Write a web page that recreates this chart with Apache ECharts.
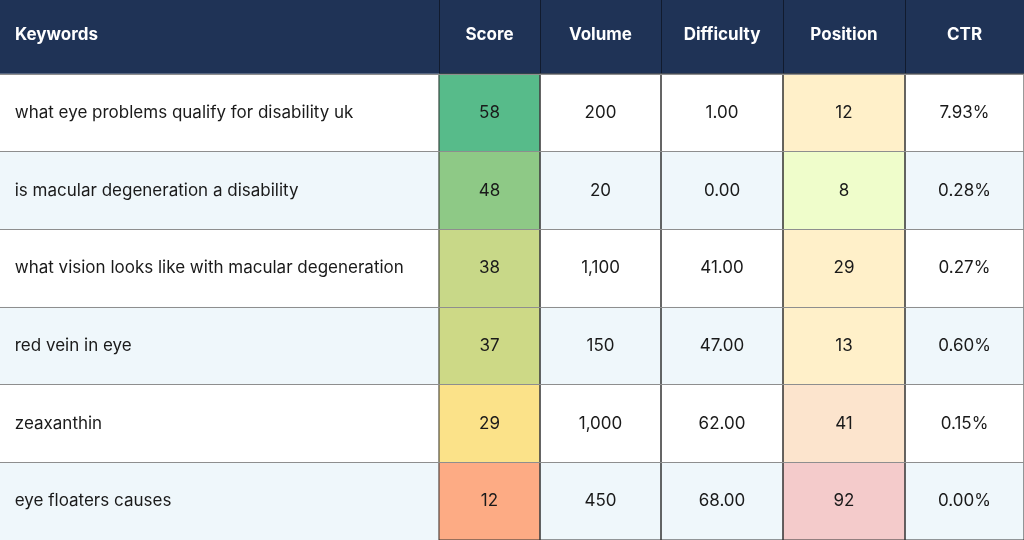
<!DOCTYPE html>
<html>
<head>
<meta charset="utf-8">
<script src="https://cdn.jsdelivr.net/npm/echarts@6/dist/echarts.min.js"></script>
<style>
html,body{margin:0;padding:0;background:#fff;}
#chart{width:1024px;height:540px;}
</style>
</head>
<body>
<div id="chart"></div>
<script>
// ---- data ----
var headers = ['Keywords', 'Score', 'Volume', 'Difficulty', 'Position', 'CTR'];
var keywords = [
  'what eye problems qualify for disability uk',
  'is macular degeneration a disability',
  'what vision looks like with macular degeneration',
  'red vein in eye',
  'zeaxanthin',
  'eye floaters causes'
];
var score = [58, 48, 38, 37, 29, 12];
var volume = [200, 20, 1100, 150, 1000, 450];
var difficulty = [1.00, 0.00, 41.00, 47.00, 62.00, 68.00];
var position = [12, 8, 29, 13, 41, 92];
var ctr = [7.93, 0.28, 0.27, 0.60, 0.15, 0.00];

// ---- styles (conditional formatting colours) ----
var scoreColors = ['#57bb8a', '#8ec986', '#c8d888', '#cdd986', '#fbe289', '#fdab84'];
var positionColors = ['#fff0c9', '#effdcb', '#fff0c9', '#fff0c9', '#fce4cd', '#f4cbcb'];
var rowBg = function (i) { return i % 2 === 0 ? '#ffffff' : '#eff7fb'; };

// ---- layout ----
var colEdges = [0, 439, 540, 661, 783, 905, 1024];
var headerH = 74;
var rowH = 78;
var bodyFont = 17;

var columns = [
  { values: keywords.map(function (k, i) { return i; }), fmt: function (v, i) { return keywords[i]; }, colors: null, left: true },
  { values: score, fmt: function (v) { return String(v); }, colors: scoreColors },
  { values: volume, fmt: function (v) { return v.toLocaleString('en-US'); }, colors: null },
  { values: difficulty, fmt: function (v) { return v.toFixed(2); }, colors: null },
  { values: position, fmt: function (v) { return String(v); }, colors: positionColors },
  { values: ctr, fmt: function (v) { return v.toFixed(2) + '%'; }, colors: null }
];

var grids = [], xAxes = [], yAxes = [], series = [];
columns.forEach(function (col, c) {
  grids.push({
    left: colEdges[c], width: colEdges[c + 1] - colEdges[c],
    top: headerH, height: rowH * keywords.length,
    show: c > 0, borderColor: '#333333', borderWidth: 1,
    backgroundColor: 'transparent', z: 5
  });
  xAxes.push({
    type: 'category', gridIndex: c, data: [headers[c]], position: 'top',
    axisLine: { show: false }, axisTick: { show: false }, axisLabel: { show: false },
    splitLine: { show: false }
  });
  yAxes.push({
    type: 'category', gridIndex: c, data: keywords, inverse: true,
    axisLine: { show: false }, axisTick: { show: false }, axisLabel: { show: false },
    splitLine: { show: true, lineStyle: { color: '#8e8e8e', width: 1 } }, z: 5
  });
  series.push({
    type: 'heatmap', xAxisIndex: c, yAxisIndex: c, z: 1,
    data: col.values.map(function (v, i) {
      return {
        value: [0, i, v],
        itemStyle: { color: col.colors ? col.colors[i] : rowBg(i) }
      };
    }),
    label: col.left ? {
      show: true, position: [15, '50%'], align: 'left', verticalAlign: 'middle',
      fontFamily: 'Inter', fontSize: bodyFont, color: '#1a1a1a',
      formatter: function (p) { return col.fmt(p.value[2], p.dataIndex); }
    } : {
      show: true, position: 'inside',
      fontFamily: 'Inter', fontSize: bodyFont, color: '#1a1a1a',
      formatter: function (p) { return col.fmt(p.value[2], p.dataIndex); }
    },
    emphasis: { disabled: true },
    silent: true
  });
});

// header band
var graphics = [{
  type: 'rect', left: 0, top: 0, z: 0,
  shape: { x: 0, y: 0, width: 1024, height: headerH },
  style: { fill: '#1f3356' }
}];
headers.forEach(function (h, c) {
  if (c > 0) {
    graphics.push({
      type: 'line', z: 1,
      shape: { x1: colEdges[c] + 0.5, y1: 0, x2: colEdges[c] + 0.5, y2: headerH },
      style: { stroke: '#111b2e', lineWidth: 1 }
    });
  }
  graphics.push({
    type: 'text', z: 2,
    x: c === 0 ? 15 : (colEdges[c] + colEdges[c + 1]) / 2,
    y: 35,
    style: {
      text: h, fill: '#ffffff', fontFamily: 'Inter', fontWeight: 'bold', fontSize: 17,
      align: c === 0 ? 'left' : 'center', verticalAlign: 'middle'
    }
  });
});

var chart = echarts.init(document.getElementById('chart'));
chart.setOption({
  animation: false,
  backgroundColor: '#ffffff',
  grid: grids,
  xAxis: xAxes,
  yAxis: yAxes,
  series: series,
  graphic: graphics
});
</script>
</body>
</html>
